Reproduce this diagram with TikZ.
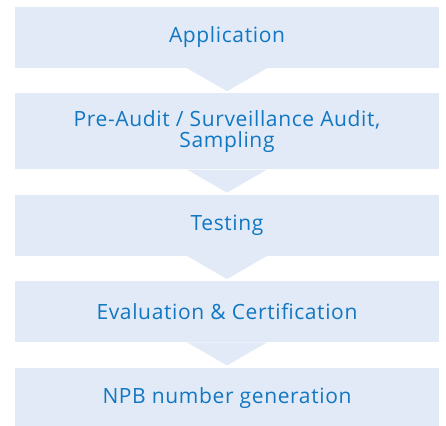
\documentclass[tikz,border=0pt]{standalone}
\usepackage{fontspec}
\setmainfont{Open Sans}[LetterSpace=3]
\usetikzlibrary{positioning}
\definecolor{stepfill}{HTML}{E1EAF6}
\definecolor{steptext}{HTML}{1277C2}

\begin{document}
\begin{tikzpicture}[x=1pt, y=1pt,
                    stepnode/.style={rectangle, fill=stepfill, text=steptext, minimum width=424pt, minimum height=61pt, inner sep=0pt, align=center, font=\fontsize{21}{21.5}\selectfont},
                    chevron/.style={fill=stepfill}, node distance=25pt]
                    \useasboundingbox (0,0) rectangle (446,425);
                    \node[stepnode] (app) at (227,387.5) {Application};
                    \node[stepnode, minimum height=76pt] (audit) [below= of app] {Pre-Audit / Surveillance Audit,\\Sampling};
                    \node[stepnode] (test) [below= of audit] {Testing};
                    \node[stepnode] (eval) [below= of test] {Evaluation \& Certification};
                    \node[stepnode] (npb) [below= of eval] {NPB number generation};

                    \foreach \a in {app,audit,test,eval}
                        \fill[chevron] ([xshift=-40pt]\a.south) -- ([xshift=40pt]\a.south) -- ([yshift=-23pt]\a.south) -- cycle;
                    \end{tikzpicture}
\end{document}
